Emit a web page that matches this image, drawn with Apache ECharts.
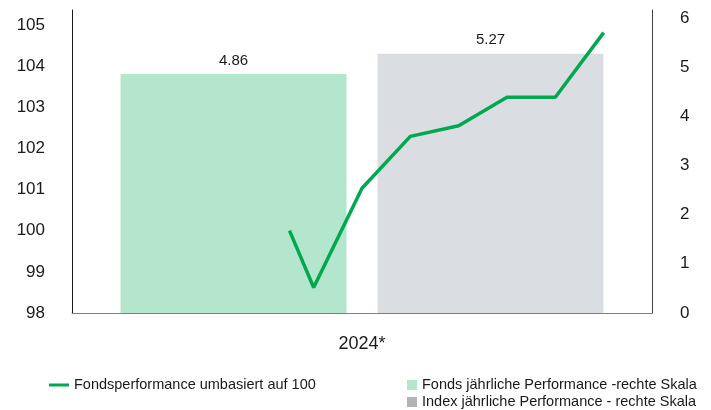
<!DOCTYPE html>
<html>
<head>
<meta charset="utf-8">
<script src="https://cdn.jsdelivr.net/npm/echarts@6/dist/echarts.min.js"></script>
<style>
html, body { margin: 0; padding: 0; background: #fff; }
#chart { width: 711px; height: 410px; }
</style>
</head>
<body>
<div id="chart"></div>
<script>
// Daten
var categories = ['2024*'];
var fondsBar = [4.86];
var indexBar = [5.27];
// Linie: x in Monaten (versteckte Achse 0..12), y umbasiert auf 100
var lineX = [4.5, 5, 6, 7, 8, 9, 10, 11];
var lineY = [100.0, 98.62, 101.03, 102.29, 102.55, 103.24, 103.24, 104.81];

var nameLine = 'Fondsperformance umbasiert auf 100';
var nameFonds = 'Fonds jährliche Performance -rechte Skala';
var nameIndex = 'Index jährliche Performance - rechte Skala';

var chart = echarts.init(document.getElementById('chart'));

var linePoints = [];
for (var i = 0; i < lineX.length; i++) {
    linePoints.push([lineX[i], lineY[i]]);
}

var font = 'Liberation Sans, Arial, sans-serif';

var option = {
    animation: false,
    textStyle: { fontFamily: font, color: '#1a1a1a' },
    grid: { left: 72, right: 59, top: 10, bottom: 97 },
    legend: [{
        data: [nameLine],
        left: 49, top: 377, padding: 0,
        icon: 'rect', itemWidth: 20, itemHeight: 3,
        textStyle: { fontSize: 14.5, lineHeight: 16, color: '#1a1a1a', fontFamily: font }
    }, {
        data: [nameFonds, { name: nameIndex, itemStyle: { color: '#b3b3b3' } }],
        orient: 'vertical',
        left: 407, top: 377, padding: 0,
        icon: 'rect', itemWidth: 10, itemHeight: 10, itemGap: 1,
        textStyle: { fontSize: 14.5, lineHeight: 16, color: '#1a1a1a', fontFamily: font }
    }],
    xAxis: [{
        type: 'category',
        data: categories,
        axisTick: { show: false },
        axisLine: { lineStyle: { color: '#808080', width: 1 } },
        axisLabel: { fontSize: 18, color: '#1a1a1a', margin: 22 }
    }, {
        type: 'value',
        min: 0, max: 12,
        show: false
    }],
    yAxis: [{
        type: 'value',
        position: 'left',
        min: 98, max: 105.36, interval: 1,
        splitLine: { show: false },
        axisLine: { show: true, lineStyle: { color: '#1a1a1a' } },
        axisTick: { show: false },
        axisLabel: { fontSize: 17, color: '#1a1a1a', margin: 27, showMaxLabel: false }
    }, {
        type: 'value',
        position: 'right',
        min: 0, max: 6.16, interval: 1,
        splitLine: { show: false },
        axisLine: { show: true, lineStyle: { color: '#404040' } },
        axisTick: { show: false },
        axisLabel: { fontSize: 17, color: '#1a1a1a', margin: 28, showMaxLabel: false }
    }],
    series: [{
        name: nameFonds,
        type: 'bar',
        xAxisIndex: 0, yAxisIndex: 1,
        data: fondsBar,
        barWidth: 226,
        barGap: '13.7%',
        itemStyle: { color: '#b3e6cc' },
        label: { show: true, position: 'top', distance: 6, fontSize: 15, color: '#1a1a1a' }
    }, {
        name: nameIndex,
        type: 'bar',
        xAxisIndex: 0, yAxisIndex: 1,
        data: indexBar,
        barWidth: 226,
        itemStyle: { color: '#dadee2' },
        label: { show: true, position: 'top', distance: 6, fontSize: 15, color: '#1a1a1a' }
    }, {
        name: nameLine,
        type: 'line',
        xAxisIndex: 1, yAxisIndex: 0,
        data: linePoints,
        symbol: 'none',
        itemStyle: { color: '#00a94f' },
        lineStyle: { color: '#00a94f', width: 3.5 }
    }]
};

chart.setOption(option);
</script>
</body>
</html>
